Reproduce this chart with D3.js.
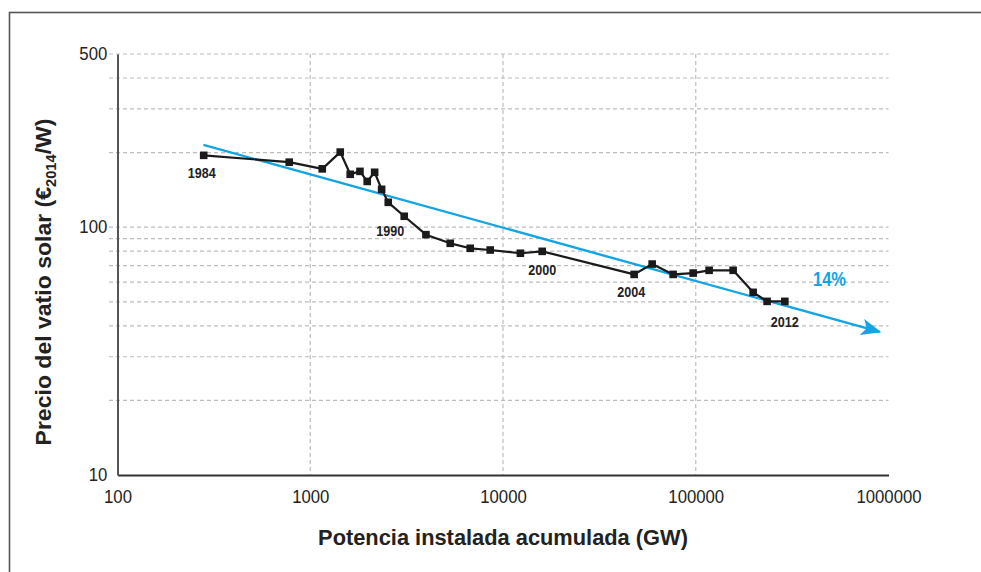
<!DOCTYPE html>
<html>
<head>
<meta charset="utf-8">
<script src="https://cdn.jsdelivr.net/npm/d3@7"></script>
<style>
  html, body { margin: 0; padding: 0; background: #fff; }
  svg { display: block; }
  text { font-family: "Liberation Sans", Arial, Helvetica, sans-serif; }
</style>
</head>
<body>
<svg id="chart" width="981" height="572"></svg>
<script>
// Cumulative installed capacity (GW) and price of the solar watt (€2014/W)
const capacity = [280, 778, 1154, 1431, 1612, 1811, 1975, 2158, 2346, 2539, 3073, 3983, 5324,
  6760, 8582, 12310, 15970, 47910, 59410, 76330, 96950, 117300, 156300, 198500, 234500, 289800];
const price = [195, 183, 172, 201, 163.5, 168, 153, 166.6, 142.2, 126, 110.7, 93.3, 86.1,
  82.2, 80.9, 78.5, 79.9, 64.5, 71.0, 64.5, 65.3, 67.0, 67.0, 54.6, 50.2, 50.2];

// Year labels attached to some of the points (index into the arrays above)
const yearLabels = ["1984", "1990", "2000", "2004", "2012"];
const yearIndex = [0, 9, 16, 17, 25];

// Learning-curve trend (start and end points)
const trendX = [279, 901000];
const trendY = [215, 37.8];
const trendLabel = "14%";

const xTicks = [100, 1000, 10000, 100000, 1000000];
const yTickLabels = [10, 100, 500];
const yGrid = [20, 30, 40, 50, 60, 70, 80, 90, 100, 200, 300, 400, 500];
const xGrid = [1000, 10000, 100000];

const svg = d3.select("#chart");
const blue = "#12a5e3";
const ink = "#222";

// Condensed look: squeeze a text group horizontally to a given width
function condense(g, targetWidth) {
  const w = g.node().getBBox().width;
  return w > 0 ? targetWidth / w : 1;
}

// Outer frame
svg.append("rect")
  .attr("x", 9.5).attr("y", 12.5)
  .attr("width", 1000).attr("height", 600)
  .attr("fill", "none").attr("stroke", "#555").attr("stroke-width", 1.6);

const x = d3.scaleLog().domain([100, 1000000]).range([117.5, 888.5]);
const y = d3.scaleLog().domain([10, 500]).range([475, 54]);

// Grid
const grid = svg.append("g").attr("stroke", "#bdbdbd").attr("stroke-width", 1.2)
  .attr("stroke-dasharray", "4,3").attr("fill", "none");
grid.selectAll(".h").data(yGrid).join("line")
  .attr("x1", 109).attr("x2", x(1000000))
  .attr("y1", d => y(d)).attr("y2", d => y(d));
grid.selectAll(".v").data(xGrid).join("line")
  .attr("x1", d => x(d)).attr("x2", d => x(d))
  .attr("y1", y(500)).attr("y2", y(10));

// Axes
const xAxis = d3.axisBottom(x).tickValues(xTicks).tickFormat(d3.format("d")).tickSize(0).tickPadding(15);
const gx = svg.append("g").attr("transform", `translate(0,${y(10)})`).call(xAxis);
gx.select(".domain").attr("stroke", "#333").attr("stroke-width", 2);
gx.selectAll("text").attr("font-size", 18).attr("fill", ink)
  .attr("font-family", "'Liberation Sans', Arial, sans-serif")
  .attr("transform", "scale(0.93,1)");

const yAxis = d3.axisLeft(y).tickValues(yTickLabels).tickFormat(d3.format("d")).tickSize(0).tickPadding(11);
const gy = svg.append("g").attr("transform", `translate(${x(100)},0)`).call(yAxis);
gy.select(".domain").attr("stroke", "#555").attr("stroke-width", 2);
gy.selectAll("text").attr("font-size", 18).attr("fill", ink)
  .attr("font-family", "'Liberation Sans', Arial, sans-serif")
  .attr("transform", "scale(0.93,1)");

// Trend line with arrow head
svg.append("defs").append("marker")
  .attr("id", "arrow").attr("viewBox", "0 0 12 10")
  .attr("refX", 11).attr("refY", 5)
  .attr("markerWidth", 10).attr("markerHeight", 7)
  .attr("markerUnits", "strokeWidth")
  .attr("orient", "auto")
  .append("path").attr("d", "M0,0 L12,5 L0,10 L3,5 Z").attr("fill", blue);

svg.append("line")
  .attr("x1", x(trendX[0])).attr("y1", y(trendY[0]))
  .attr("x2", x(trendX[1])).attr("y2", y(trendY[1]))
  .attr("stroke", blue).attr("stroke-width", 2.4)
  .attr("marker-end", "url(#arrow)");

const gt = svg.append("g").attr("transform", "translate(829.5,286)");
gt.append("text")
  .attr("text-anchor", "middle")
  .attr("font-size", 20.5).attr("font-weight", "bold")
  .attr("fill", blue).text(trendLabel);
gt.attr("transform", `translate(829.5,286) scale(${condense(gt, 33)},1)`);

// Price series
const pts = capacity.map((c, i) => [c, price[i]]);
svg.append("path").datum(pts)
  .attr("fill", "none").attr("stroke", "#1a1a1a").attr("stroke-width", 2.2)
  .attr("stroke-linejoin", "round")
  .attr("d", d3.line().x(d => x(d[0])).y(d => y(d[1])));
svg.selectAll(".pt").data(pts).join("rect")
  .attr("x", d => x(d[0]) - 3.8).attr("y", d => y(d[1]) - 3.8)
  .attr("width", 7.6).attr("height", 7.6).attr("fill", "#1a1a1a");

// Year labels (offset of the baseline from the point)
const labelOffset = [[-2, 22.5], [2, 33.5], [0, 23.7], [-3, 23], [0, 25.4]];
yearIndex.forEach((d, i) => {
  const px = x(capacity[d]) + labelOffset[i][0];
  const py = y(price[d]) + labelOffset[i][1];
  const g = svg.append("g").attr("transform", `translate(${px},${py})`);
  g.append("text")
    .attr("text-anchor", "middle")
    .attr("font-size", 14.5).attr("font-weight", "bold").attr("fill", ink)
    .text(yearLabels[i]);
  g.attr("transform", `translate(${px},${py}) scale(${condense(g, 28)},1)`);
});

// Axis titles
const gxt = svg.append("g");
gxt.append("text")
  .attr("text-anchor", "middle")
  .attr("font-size", 22).attr("font-weight", "bold").attr("fill", ink)
  .text("Potencia instalada acumulada (GW)");
gxt.attr("transform", `translate(503,545) scale(${condense(gxt, 370)},1)`);

const gyt = svg.append("g");
const yt = gyt.append("text")
  .attr("text-anchor", "middle")
  .attr("font-size", 22).attr("font-weight", "bold").attr("fill", ink);
yt.append("tspan").text("Precio del vatio solar (€");
yt.append("tspan").attr("font-size", 14).attr("dy", 5).text("2014");
yt.append("tspan").attr("dy", -5).text("/W)");
gyt.attr("transform", `translate(51,282) rotate(-90) scale(${condense(gyt, 327)},1)`);
</script>
</body>
</html>
